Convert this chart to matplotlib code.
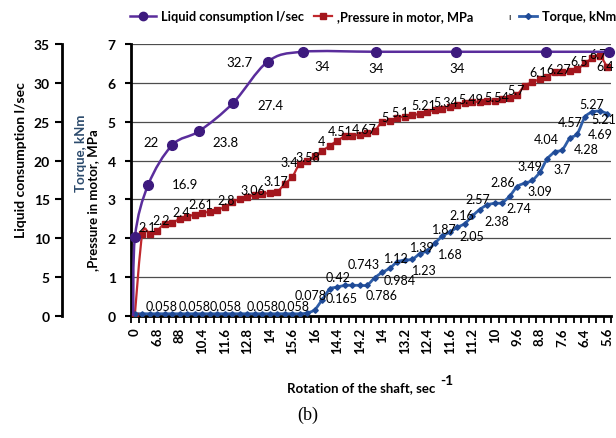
import numpy as np
import matplotlib.pyplot as plt
from matplotlib.lines import Line2D
from matplotlib.path import Path
from matplotlib.patches import PathPatch

plt.rcParams['font.family'] = ['Lato', 'DejaVu Sans']

# shaft rotation, sec^-1 (one label every third reading)
rotation_labels = ['0', '6.8', '88', '10.4', '11.6', '12.8', '14', '15.6', '16', '14.4', '14.2',
                   '14', '13.2', '12.4', '11.6', '11.2', '10', '9.6', '8.8', '7.6', '6.4', '5.6']

# pressure in motor, MPa (one value per reading)
pressure = [0, 2.1, 2.11, 2.2, 2.38, 2.4, 2.5, 2.56, 2.61, 2.66,
            2.68, 2.74, 2.8, 2.93, 3.01, 3.06, 3.12, 3.14, 3.17, 3.2,
            3.4, 3.58, 3.92, 4.0, 4.12, 4.25, 4.38, 4.51, 4.62, 4.64,
            4.67, 4.7, 4.77, 5.0, 5.03, 5.1, 5.13, 5.16, 5.21, 5.26,
            5.3, 5.34, 5.38, 5.43, 5.49, 5.5, 5.52, 5.53, 5.54, 5.58,
            5.62, 5.7, 5.93, 6.01, 6.1, 6.16, 6.27, 6.29, 6.31, 6.35,
            6.5, 6.63, 6.7, 6.4]

# torque, kNm
torque = [0.058] * 23 + [
    0.078, 0.165, 0.42, 0.69, 0.743, 0.786, 0.79, 0.79, 0.8, 0.984,
    1.12, 1.23, 1.39, 1.44, 1.46, 1.6, 1.68, 1.87, 2.05, 2.16,
    2.28, 2.38, 2.57, 2.74, 2.86, 2.9, 2.92, 3.09, 3.33, 3.42,
    3.49, 3.7, 4.04, 4.22, 4.28, 4.57, 4.69, 5.11, 5.25, 5.27,
    5.21]

# liquid consumption, l/sec, at its own reading positions
liquid_pos = [-0.2, 0.03, 1.8, 5.0, 8.6, 13.1, 17.7, 22.4, 32.2, 42.8, 54.8, 63.2]
liquid = [0, 10.2, 16.9, 22, 23.8, 27.4, 32.7, 34, 34, 34, 34, 34]

# which points carry a value label, and where the label sits (px from the point)
pressure_lbl = [1, 3, 5, 8, 12, 15, 18, 20, 21, 23, 27, 30, 33, 35, 38, 41, 44, 48, 51, 54, 56, 60, 62, 63]
pressure_off = [(5, 7), (4, 11), (9, 11), (6, 11), (1, 7), (6, 7), (6, 12), (5, 22), (16, 20), (14, 20),
                (3, 10), (4, 6), (3, 5), (3, 6), (4, 9), (4, 7), (6, 4), (2, 4), (-1, 5), (-2, 7),
                (4, 3), (-6, 2), (-2, 2), (-2, 1)]
torque_lbl = [3, 8, 12, 17, 21, 23, 24, 25, 27, 28, 32, 33, 34, 35, 39, 40, 41, 42, 44, 45,
              46, 47, 50, 53, 54, 55, 57, 58, 59, 62, 63]
torque_off = [(4, 8), (0, 8), (1, 8), (0, 8), (1, 8), (3, 18), (27, 12), (16, 23), (26, 23), (37, -10),
              (25, -2), (14, 14), (35, -2), (25, 15), (23, -3), (10, 14), (30, 0), (12, 17), (32, 3), (6, 17),
              (39, 2), (16, 23), (30, 5), (-2, 14), (22, 3), (-1, 20), (24, 1), (0, 16), (23, 0), (-8, 7),
              (-4, -5)]
liquid_lbl = [2, 3, 4, 5, 6, 7, 8, 9]
liquid_off = [(37, 1), (-21, 3), (26, -11), (38, -2), (-28, 0), (19, -14), (0, -16), (1, -16)]

c_liq, c_liq_m = '#5a2d9c', '#3d1a7e'
c_pr, c_pr_m = '#c0282d', '#a3161d'
c_tq, c_tq_m = '#2f5ea8', '#1f4a96'


def smooth_path(xs, ys):
    # cubic bezier through the points (spreadsheet-style smoothed line)
    pts = np.column_stack([xs, ys]).astype(float)
    n = len(pts)
    verts, codes = [pts[0]], [Path.MOVETO]
    for i in range(n - 1):
        p0 = pts[i - 1] if i > 0 else pts[i]
        p1, p2 = pts[i], pts[i + 1]
        p3 = pts[i + 2] if i + 2 < n else pts[i + 1]
        verts += [p1 + (p2 - p0) / 6, p2 - (p3 - p1) / 6, p2]
        codes += [Path.CURVE4] * 3
    return Path(verts, codes)


def px(off):
    return (off[0] * 0.72, off[1] * 0.72)


fig = plt.figure(figsize=(6.16, 4.39), dpi=100)
ax = fig.add_axes([131 / 616, 122 / 439, 480 / 616, 272 / 439])
ax2 = ax.twinx()

x = np.arange(len(pressure))

ax.add_patch(PathPatch(smooth_path(x, pressure), fill=False, ec=c_pr, lw=1.6, zorder=3))
ax.plot(x, pressure, ls='none', marker='s', ms=4.5, mfc=c_pr_m, mec=c_pr_m, zorder=4)
ax.add_patch(PathPatch(smooth_path(x, torque), fill=False, ec=c_tq, lw=2.0, zorder=3))
ax.plot(x, torque, ls='none', marker='D', ms=2.8, mfc=c_tq_m, mec=c_tq_m, zorder=4)

ax2.add_patch(PathPatch(smooth_path(liquid_pos, liquid), fill=False, ec=c_liq, lw=1.8, zorder=3))
ax2.plot(liquid_pos[1:], liquid[1:], ls='none', marker='o', ms=7, mfc=c_liq_m, mec=c_liq_m,
         zorder=4, clip_on=False)

for i, off in zip(pressure_lbl, pressure_off):
    ax.annotate(f'{pressure[i]:g}', (x[i], pressure[i]), xytext=px(off), textcoords='offset points',
                ha='center', va='center', fontsize=9, zorder=6)
for i, off in zip(torque_lbl, torque_off):
    ax.annotate(f'{torque[i]:g}', (x[i], torque[i]), xytext=px(off), textcoords='offset points',
                ha='center', va='center', fontsize=9, zorder=6)
for i, off in zip(liquid_lbl, liquid_off):
    ax2.annotate(f'{liquid[i]:g}', (liquid_pos[i], liquid[i]), xytext=px(off), textcoords='offset points',
                 ha='center', va='center', fontsize=9.5, zorder=6)

# main axis: pressure / torque 0..7
ax.set_xlim(-0.5, len(pressure) - 0.5)
ax.set_ylim(0, 7)
ax.set_yticks(range(8))
ax.yaxis.grid(True, color='#4d4d4d', lw=0.9)
ax.set_axisbelow(True)
for s in ('top', 'right'):
    ax.spines[s].set_visible(False)
ax.spines['left'].set_linewidth(2)
ax.spines['bottom'].set_linewidth(2)
ax.set_xticks(np.arange(0, len(pressure), 3))
ax.set_xticklabels(rotation_labels, rotation=90, fontweight='bold', fontsize=9.5)
ax.set_xticks(np.arange(-0.5, len(pressure), 1), minor=True)
ax.tick_params(axis='x', which='major', length=0, pad=8)
ax.tick_params(axis='x', which='minor', length=5, width=1.3, direction='out')
ax.tick_params(axis='y', length=4, width=1.5, pad=7, labelsize=10)
for t in ax.get_yticklabels():
    t.set_fontweight('bold')

# liquid axis 0..35 further out on the left
ax2.set_ylim(0, 35)
ax2.set_yticks(range(0, 36, 5))
ax2.yaxis.tick_left()
ax2.spines['left'].set_position(('axes', -0.143))
ax2.spines['left'].set_linewidth(2)
for s in ('top', 'right', 'bottom'):
    ax2.spines[s].set_visible(False)
ax2.tick_params(axis='y', length=5, width=1.5, pad=4, labelsize=10)
for t in ax2.get_yticklabels():
    t.set_fontweight('bold')

# axis titles
fig.text(21 / 616, 1 - 160 / 439, 'Liquid consumption l/sec', rotation=90, ha='center', va='center',
         fontsize=10, fontweight='bold')
fig.text(81 / 616, 1 - 153 / 439, 'Torque, kNm', rotation=90, ha='center', va='center',
         fontsize=9.5, fontweight='bold', color='#2b4a6c')
fig.text(93 / 616, 1 - 200 / 439, ',Pressure in motor, MPa', rotation=90, ha='center', va='center',
         fontsize=9.5, fontweight='bold')
fig.text(435 / 616, 1 - 388 / 439, 'Rotation of the shaft, sec', ha='right', va='center',
         fontsize=9.5, fontweight='bold')
fig.text(440 / 616, 1 - 381 / 439, '-1', ha='left', va='center', fontsize=10, fontweight='bold')
fig.text(0.5, 1 - 415 / 439, '(b)', ha='center', va='center', fontsize=13, family='Liberation Serif')

# legend entries along the top
entries = [
    (Line2D([], [], color=c_liq, lw=1.8, marker='o', ms=6, mfc=c_liq_m, mec=c_liq_m),
     'Liquid consumption l/sec', 130, 2.0),
    (Line2D([], [], color=c_pr, lw=1.6, marker='s', ms=4.5, mfc=c_pr_m, mec=c_pr_m),
     ',Pressure in motor, MPa', 314, 1.4),
    (Line2D([], [], color=c_tq, lw=2.0, marker='D', ms=3, mfc=c_tq_m, mec=c_tq_m),
     'Torque, kNm', 519, 1.4),
]
for h, lab, x0, hl in entries:
    fig.legend([h], [lab], loc='center left', bbox_to_anchor=(x0 / 616, 1 - 17 / 439),
               frameon=False, borderpad=0, borderaxespad=0, handlelength=hl, handletextpad=0.4,
               prop={'weight': 'bold', 'size': 9.2})
fig.text(509 / 616, 1 - 17 / 439, 'ı', ha='center', va='center', fontsize=7)

fig.savefig('out.png', dpi=100)
